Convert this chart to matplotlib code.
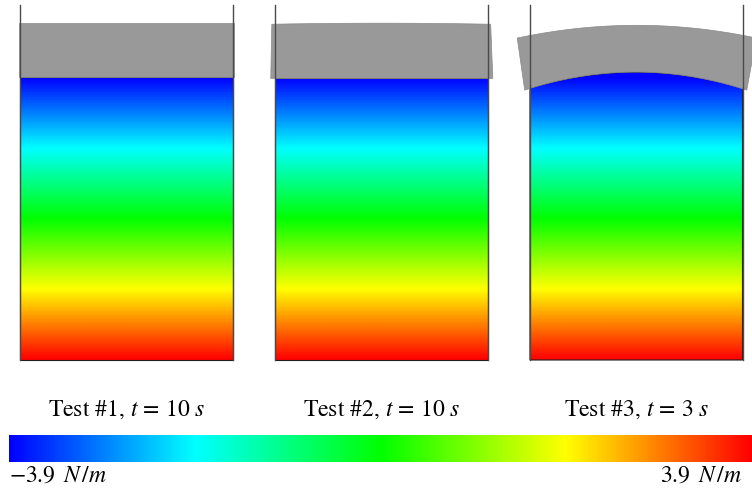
import numpy as np
import matplotlib.pyplot as plt
from matplotlib.colors import LinearSegmentedColormap, Normalize
from matplotlib.patches import Polygon
from matplotlib.cm import ScalarMappable

plt.rcParams['font.family'] = 'STIXGeneral'
plt.rcParams['mathtext.fontset'] = 'stix'

# tests and geometry (cm)
test_ids = [1, 2, 3]
times_s = [10, 10, 3]
tank_width = 20.0
wall_height = 33.4
fluid_mid = [26.6, 26.5, 27.1]      # free surface at tank centre
fluid_wall = [26.6, 26.5, 25.6]     # free surface at the walls
plate_bot_end = [26.6, 26.5, 25.4]
plate_top_mid = [31.7, 31.7, 31.5]
plate_top_end = [31.7, 31.6, 30.3]
plate_bot_x = [(-0.1, 20.1), (-0.4, 20.5), (-0.5, 20.4)]
plate_top_x = [(-0.1, 20.1), (-0.3, 20.3), (-1.2, 21.3)]

# pressure range (N/m) and colours of the scale
p_min, p_max = -3.9, 3.9
scale_colors = ['blue', 'cyan', 'lime', 'yellow', 'red']

cmap = LinearSegmentedColormap.from_list('press', scale_colors)
norm = Normalize(p_min, p_max)

W, H = 752, 492
px_per_cm = 10.625
fig = plt.figure(figsize=(W / 100, H / 100), dpi=100)


def curve(x0, x1, y_end, y_mid, n=80):
    xs = np.linspace(x0, x1, n)
    c = (x0 + x1) / 2
    ys = y_mid - (y_mid - y_end) * ((xs - c) / (x1 - c)) ** 2
    return xs, ys


xlim = (-1.8, 22.2)
ylim = (-0.5, 34.0)
tank_left_px = [20, 275, 530]
fluid_bottom_px = 360

for i in range(3):
    left = tank_left_px[i] + xlim[0] * px_per_cm
    bottom = (H - fluid_bottom_px) + ylim[0] * px_per_cm
    ax = fig.add_axes([left / W, bottom / H,
                       (xlim[1] - xlim[0]) * px_per_cm / W,
                       (ylim[1] - ylim[0]) * px_per_cm / H])
    ax.set_xlim(*xlim)
    ax.set_ylim(*ylim)
    ax.axis('off')

    # fluid region
    sx, sy = curve(0, tank_width, fluid_wall[i], fluid_mid[i])
    verts = [(0, 0), (tank_width, 0)] + list(zip(sx[::-1], sy[::-1]))
    fluid = Polygon(verts, closed=True, facecolor='none',
                    edgecolor='#202020', lw=0.8, zorder=3)
    ax.add_patch(fluid)

    yy = np.linspace(0, 28, 500)
    press = p_max - (p_max - p_min) * yy / fluid_wall[0]
    img = ax.imshow(press[:, None], extent=(0, tank_width, 0, 28),
                    origin='lower', cmap=cmap, norm=norm, aspect='auto',
                    interpolation='bilinear', zorder=2)
    img.set_clip_path(fluid)

    # floating plate
    bx, by = curve(*plate_bot_x[i], plate_bot_end[i], fluid_mid[i])
    tx, ty = curve(*plate_top_x[i], plate_top_end[i], plate_top_mid[i])
    pverts = list(zip(bx, by)) + list(zip(tx[::-1], ty[::-1]))
    ax.add_patch(Polygon(pverts, closed=True, facecolor='#999999',
                         edgecolor='#8a8a8a', lw=0.5, zorder=4,
                         clip_on=False))

    # tank walls
    for xw in (0, tank_width):
        ax.plot([xw, xw], [0, wall_height], color='#4a4a4a', lw=1.0,
                zorder=5, clip_on=False)

    ax.text(tank_width / 2, -5.2,
            r'Test #%d, $t\,=\,%d\ s$' % (test_ids[i], times_s[i]),
            ha='center', va='baseline', fontsize=17, clip_on=False)

# colour scale
cax = fig.add_axes([9 / W, (H - 462) / H, 743 / W, 27 / H])
cb = fig.colorbar(ScalarMappable(norm=norm, cmap=cmap), cax=cax,
                  orientation='horizontal')
cb.outline.set_visible(False)
cb.set_ticks([])
unit = r'\ \,N\,/m'
cax.text(0.0, -0.73, r'$%.1f%s$' % (p_min, unit), transform=cax.transAxes,
         ha='left', va='baseline', fontsize=17)
cax.text(0.987, -0.73, r'$%.1f%s$' % (p_max, unit), transform=cax.transAxes,
         ha='right', va='baseline', fontsize=17)

fig.savefig('out.png', dpi=100)
